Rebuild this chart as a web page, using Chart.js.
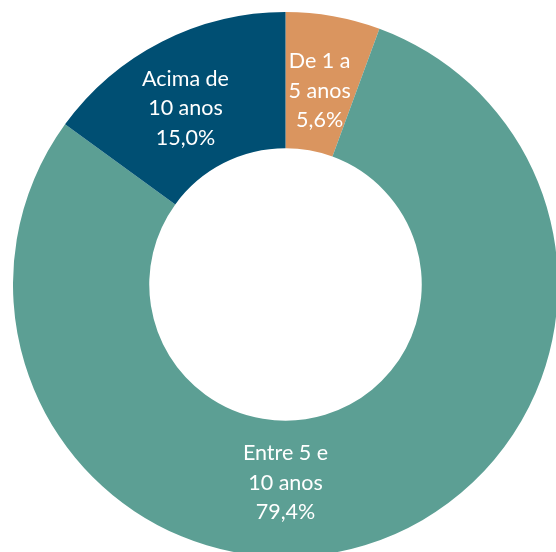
<!DOCTYPE html>
<html>
<head>
<meta charset="utf-8">
<script src="https://cdn.jsdelivr.net/npm/chart.js@4/dist/chart.umd.min.js"></script>
<style>
  html, body { margin: 0; padding: 0; background: #ffffff; overflow: hidden; width: 556px; height: 552px; }
  #wrap { position: absolute; left: 13px; top: 12px; width: 545px; height: 545px; }
</style>
</head>
<body>
<div id="wrap"><canvas id="c"></canvas></div>
<script>
const categories = ["De 1 a\n5 anos", "Entre 5 e\n10 anos", "Acima de\n10 anos"];
const values = [5.6, 79.4, 15.0];
const valueLabels = ["5,6%", "79,4%", "15,0%"];
const colors = ["#DA955F", "#5C9F94", "#004F73"];

const labelPlugin = {
  id: 'sliceLabels',
  afterDatasetsDraw(chart, args, opts) {
    const ctx = chart.ctx;
    const meta = chart.getDatasetMeta(0);
    ctx.save();
    ctx.font = opts.font;
    ctx.fillStyle = '#ffffff';
    ctx.textAlign = 'center';
    ctx.textBaseline = 'middle';
    meta.data.forEach((arc, i) => {
      const p = arc.getProps(['x', 'y', 'outerRadius'], true);
      const ang = opts.angles[i] * Math.PI / 180;
      const r = p.outerRadius * opts.radii[i];
      const cx = p.x + Math.sin(ang) * r;
      const cy = p.y - Math.cos(ang) * r;
      const lines = categories[i].split('\n').concat([valueLabels[i]]);
      const lh = opts.lineHeight;
      lines.forEach((t, k) => {
        ctx.fillText(t, cx, cy + (k - (lines.length - 1) / 2) * lh);
      });
    });
    ctx.restore();
  }
};

new Chart(document.getElementById('c'), {
  type: 'doughnut',
  data: {
    labels: categories,
    datasets: [{
      data: values,
      backgroundColor: colors,
      borderWidth: 0
    }]
  },
  options: {
    responsive: true,
    maintainAspectRatio: false,
    animation: false,
    cutout: '50%',
    layout: { padding: 0 },
    plugins: {
      legend: { display: false },
      tooltip: { enabled: false },
      sliceLabels: {
        font: '21.5px Lato',
        lineHeight: 29.5,
        angles: [10, 180, -29.6],
        radii: [0.721, 0.728, 0.743]
      }
    }
  },
  plugins: [labelPlugin]
});
</script>
</body>
</html>
